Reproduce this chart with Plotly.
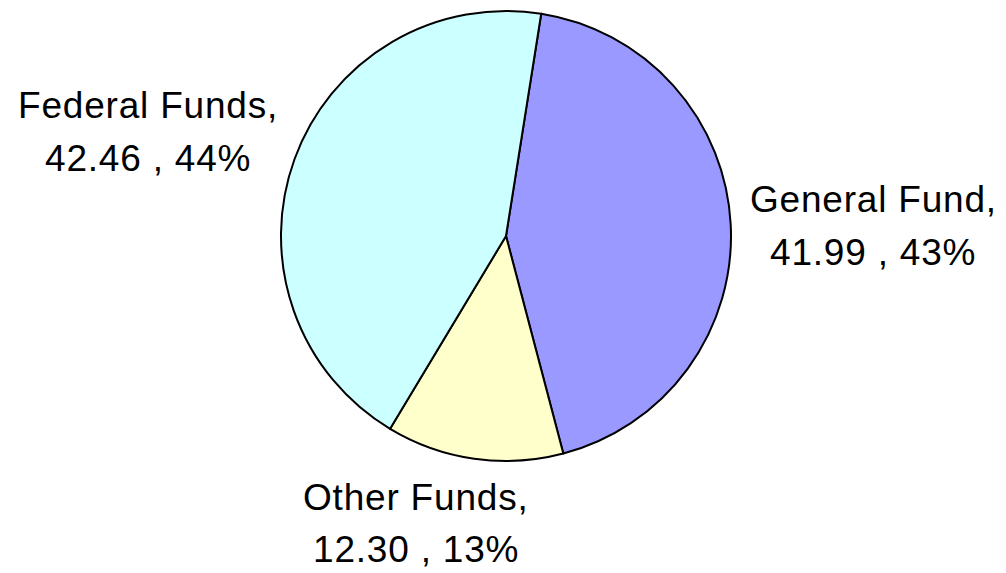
import plotly.graph_objects as go

# Data
categories = ["General Fund", "Other Funds", "Federal Funds"]
values = [41.99, 12.30, 42.46]
colors = ["#9999FF", "#FFFFCC", "#CCFFFF"]

W, H = 1006, 573
OFF = 8  # page body margin offset
total = sum(values)
percents = [round(v / total * 100) for v in values]

cx0, cy0, R = 506 - OFF, 236 - OFF, 225

fig = go.Figure()
fig.add_trace(go.Pie(
    labels=categories,
    values=values,
    sort=False,
    direction="clockwise",
    rotation=9,
    marker=dict(colors=colors, line=dict(color="#000000", width=2)),
    textinfo="none",
    hoverinfo="label+value+percent",
    showlegend=False,
    domain=dict(x=[(cx0 - R) / W, (cx0 + R) / W],
                y=[(H - cy0 - R) / H, (H - cy0 + R) / H]),
))

# label positions in pixels (center x, line1 middle y, line2 middle y)
label_pos = {
    "General Fund": (873, 199.5, 252.5),
    "Other Funds": (416, 497.5, 549.5),
    "Federal Funds": (148, 105.5, 158.5),
}

font = dict(family="Liberation Sans, Arial, sans-serif", size=37, color="#000000")
for cat, val, pct in zip(categories, values, percents):
    cx, y1, y2 = label_pos[cat]
    lines = [f"{cat},", f"{val:.2f} , {pct}%"]
    for txt, yy in zip(lines, (y1, y2)):
        fig.add_annotation(
            x=(cx - OFF) / W, y=1 - (yy - OFF) / H, xref="paper", yref="paper",
            text=f'<span style="letter-spacing:0.8px">{txt}</span>',
            showarrow=False, xanchor="center", yanchor="middle",
            font=font,
        )

fig.update_layout(
    width=W, height=H,
    margin=dict(l=0, r=0, t=0, b=0),
    paper_bgcolor="#FFFFFF",
    plot_bgcolor="#FFFFFF",
)

fig.write_html("out.html")
